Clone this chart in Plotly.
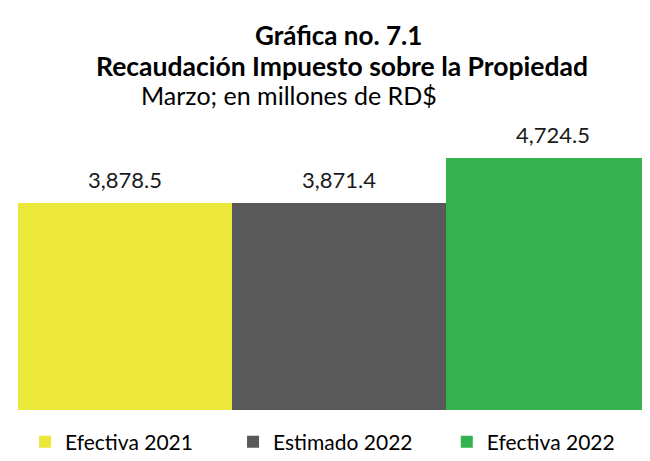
import plotly.graph_objects as go

series = ["Efectiva 2021", "Estimado 2022", "Efectiva 2022"]
values = [3878.5, 3871.4, 4724.5]
colors = ["#EBE83A", "#595959", "#33B24E"]

FONT = "Lato, 'Open Sans', sans-serif"
legend_ids = ["legend", "legend2", "legend3"]
legend_x = [0.011, 0.336, 0.67]

fig = go.Figure()
for i, (name, v, c) in enumerate(zip(series, values, colors)):
    fig.add_trace(go.Bar(x=[i], y=[v], name=name, width=1.0,
                         marker=dict(color=c, line=dict(width=0)),
                         legend=legend_ids[i], hoverinfo="skip"))
    fig.add_annotation(x=i, y=v, text=f"{v:,.1f}", showarrow=False,
                       yanchor="bottom", yshift=8,
                       font=dict(family=FONT, size=22, color="#1a1a1a"))

fig.add_annotation(xref="paper", yref="paper", x=0.500, y=1.4045, text="<b>Gráfica no. 7.1</b>",
                   showarrow=False, xanchor="center", yanchor="middle",
                   font=dict(family=FONT, size=26, color="#000"))
fig.add_annotation(xref="paper", yref="paper", x=0.506, y=1.2884,
                   text="<b>Recaudación Impuesto sobre la Propiedad</b>",
                   showarrow=False, xanchor="center", yanchor="middle",
                   font=dict(family=FONT, size=26.5, color="#000"))
fig.add_annotation(xref="paper", yref="paper", x=0.424, y=1.18,
                   text="Marzo; en millones de RD$",
                   showarrow=False, xanchor="center", yanchor="middle",
                   font=dict(family=FONT, size=25, color="#000"))

layout_legends = {}
for lid, lx in zip(legend_ids, legend_x):
    layout_legends[lid] = dict(orientation="h", x=lx, xanchor="left", y=-0.12, yanchor="middle",
                               itemwidth=30, bgcolor="rgba(0,0,0,0)",
                               font=dict(family=FONT, size=21, color="#000"))

fig.update_layout(
    width=650, height=461,
    margin=dict(l=10, r=0, t=135, b=59, autoexpand=False),
    paper_bgcolor="white", plot_bgcolor="white",
    barmode="overlay", bargap=0,
    xaxis=dict(range=[-0.5, 2.4907], visible=False, fixedrange=True),
    yaxis=dict(range=[0, 5000], visible=False, fixedrange=True),
    showlegend=True,
    **layout_legends,
)

fig.write_html("out.html")
